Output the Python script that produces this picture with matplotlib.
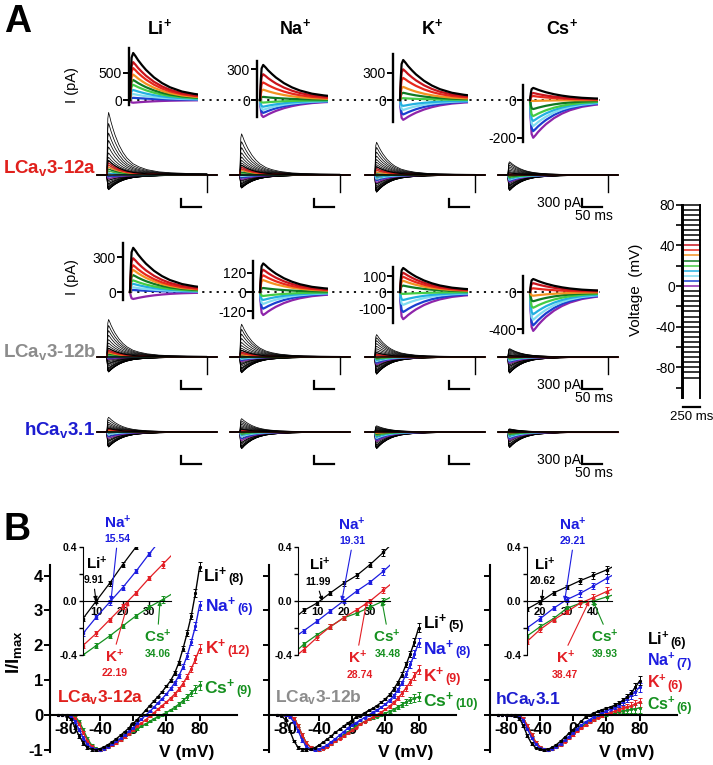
import numpy as np
import matplotlib
matplotlib.use("Agg")
import matplotlib.pyplot as plt
from matplotlib.lines import Line2D

plt.rcParams["font.family"] = ["Liberation Sans", "DejaVu Sans"]
plt.rcParams["axes.unicode_minus"] = False
plt.rcParams["mathtext.fontset"] = "custom"
for k in ("rm", "it", "bf", "sf"):
    plt.rcParams["mathtext." + k] = "Liberation Sans:bold"

# ---------------- data ----------------
ion_names = ["Li", "Na", "K", "Cs"]
ion_colors = ["black", "#1c1ce0", "#e31e24", "#15901f"]

# step potentials of the protocol and of the I-V curves (mV)
V_mV = [-90, -85, -80, -75, -70, -65, -60, -55, -50, -45, -40, -35, -30, -25,
        -20, -15, -10, -5, 0, 5, 10, 15, 20, 25, 30, 35, 40, 45, 50, 55, 60,
        65, 70, 75, 80]
holding_mV = -110
pulse_ms = 250

# normalised I-V curves (I/Imax)
iv_12a_li = [0, 0, -0.03, -0.12, -0.35, -0.6, -0.8, -0.93, -0.99, -1.0, -0.97, -0.92,
             -0.85, -0.77, -0.68, -0.58, -0.48, -0.37, -0.25, -0.13, 0.0, 0.13, 0.27,
             0.40, 0.53, 0.67, 0.82, 0.98, 1.2, 1.5, 1.9, 2.35, 2.85, 3.5, 4.25]
iv_12a_na = [0, 0, -0.01, -0.05, -0.18, -0.42, -0.66, -0.84, -0.95, -0.99, -1.0, -0.97,
             -0.91, -0.84, -0.76, -0.67, -0.57, -0.47, -0.36, -0.24, -0.12, -0.01, 0.10,
             0.22, 0.35, 0.47, 0.6, 0.75, 0.92, 1.12, 1.38, 1.7, 2.1, 2.55, 3.15]
iv_12a_k = [0, 0, 0, -0.02, -0.08, -0.25, -0.5, -0.74, -0.9, -0.98, -1.0, -0.98,
            -0.93, -0.87, -0.8, -0.72, -0.63, -0.54, -0.44, -0.33, -0.24, -0.14, -0.04,
            0.06, 0.17, 0.27, 0.37, 0.48, 0.6, 0.74, 0.9, 1.1, 1.33, 1.6, 1.9]
iv_12a_cs = [0, 0, 0, -0.01, -0.05, -0.18, -0.42, -0.68, -0.86, -0.96, -1.0, -0.98,
             -0.93, -0.86, -0.79, -0.71, -0.63, -0.55, -0.47, -0.40, -0.33, -0.26, -0.185,
             -0.11, -0.045, 0.01, 0.07, 0.14, 0.22, 0.31, 0.41, 0.52, 0.63, 0.75, 0.85]

iv_12b_li = [0, -0.02, -0.15, -0.45, -0.75, -0.93, -0.99, -1.0, -0.98, -0.94, -0.87, -0.79,
             -0.7, -0.6, -0.5, -0.41, -0.32, -0.23, -0.15, -0.07, -0.015, 0.06, 0.13,
             0.19, 0.27, 0.36, 0.46, 0.58, 0.74, 0.93, 1.16, 1.45, 1.76, 2.1, 2.5]
iv_12b_na = [0, 0, -0.01, -0.05, -0.2, -0.45, -0.72, -0.9, -0.98, -1.0, -0.98, -0.93,
             -0.86, -0.77, -0.68, -0.58, -0.48, -0.38, -0.29, -0.22, -0.15, -0.074, 0.0,
             0.074, 0.14, 0.22, 0.31, 0.42, 0.55, 0.72, 0.92, 1.17, 1.45, 1.75, 2.07]
iv_12b_k = [0, 0, 0, -0.02, -0.1, -0.3, -0.58, -0.8, -0.93, -0.99, -1.0, -0.97,
            -0.91, -0.84, -0.76, -0.68, -0.6, -0.52, -0.44, -0.36, -0.27, -0.19, -0.125,
            -0.065, 0.0, 0.08, 0.16, 0.25, 0.36, 0.48, 0.62, 0.78, 0.95, 1.12, 1.3]
iv_12b_cs = [0, 0, 0, -0.02, -0.1, -0.3, -0.58, -0.8, -0.93, -0.99, -1.0, -0.97,
             -0.91, -0.84, -0.76, -0.67, -0.58, -0.49, -0.41, -0.32, -0.25, -0.19, -0.125,
             -0.09, -0.045, 0.0, 0.05, 0.1, 0.16, 0.23, 0.3, 0.37, 0.43, 0.48, 0.52]

iv_31_li = [0, 0, 0, 0, -0.02, -0.08, -0.3, -0.6, -0.82, -0.94, -0.99, -1.0,
            -0.98, -0.93, -0.85, -0.75, -0.64, -0.53, -0.42, -0.3, -0.18, -0.06, -0.005,
            0.06, 0.105, 0.15, 0.19, 0.23, 0.28, 0.34, 0.42, 0.52, 0.64, 0.8, 0.98]
iv_31_na = [0, 0, 0, 0, -0.01, -0.04, -0.15, -0.4, -0.65, -0.84, -0.95, -0.99,
            -1.0, -0.97, -0.91, -0.83, -0.73, -0.62, -0.51, -0.4, -0.29, -0.2, -0.13,
            -0.054, 0.01, 0.056, 0.11, 0.167, 0.22, 0.29, 0.37, 0.46, 0.56, 0.67, 0.8]
iv_31_k = [0, 0, 0, 0, 0, -0.02, -0.1, -0.3, -0.56, -0.78, -0.91, -0.98,
           -1.0, -0.98, -0.93, -0.86, -0.77, -0.67, -0.57, -0.47, -0.38, -0.30, -0.21,
           -0.14, -0.08, -0.017, 0.025, 0.07, 0.11, 0.15, 0.19, 0.23, 0.27, 0.32, 0.37]
iv_31_cs = [0, 0, 0, 0, 0, -0.02, -0.1, -0.3, -0.56, -0.78, -0.91, -0.98,
            -1.0, -0.98, -0.93, -0.85, -0.75, -0.64, -0.53, -0.43, -0.34, -0.26, -0.19,
            -0.13, -0.054, -0.017, 0.0, 0.03, 0.06, 0.09, 0.12, 0.14, 0.16, 0.18, 0.2]

iv_sem = [0.01, 0.01, 0.02, 0.03, 0.04, 0.05, 0.05, 0.04, 0.03, 0.02, 0.02, 0.02,
          0.02, 0.02, 0.02, 0.02, 0.02, 0.02, 0.02, 0.02, 0.02, 0.02, 0.02, 0.02,
          0.02, 0.03, 0.03, 0.04, 0.05, 0.06, 0.07, 0.08, 0.09, 0.11, 0.13]

n_12a = [8, 6, 12, 9]
n_12b = [5, 8, 9, 10]
n_31 = [6, 7, 6, 6]
rev_12a = [9.91, 15.54, 22.19, 34.06]
rev_12b = [11.99, 19.31, 28.74, 34.48]
rev_31 = [20.62, 29.21, 38.47, 39.93]

# family traces: peak inward current (pA) used to scale I/Imax
imax_12a = [530, 470, 620, 560]
imax_12b = [540, 570, 620, 580]
imax_31 = [540, 600, 600, 560]
tail_pA = [600, 600, 0]

# enlarged traces, one peak (pA) per coloured step
colored_mV = [0, 5, 10, 15, 20, 25, 30, 35, 40, 45]
colored_colors = ["#8e24aa", "#1a3fd0", "#7fdcf0", "#22b0e0", "#44cc44",
                  "#0f7a22", "#f39220", "#e8281c", "#c8141c", "black"]
peaks_12a_li = [-50, 40, 110, 185, 280, 370, 470, 590, 700, 870]
peaks_12a_na = [-165, -125, -95, -65, -25, 30, 100, 170, 250, 340]
peaks_12a_k = [-220, -160, -110, -65, 20, 80, 145, 245, 340, 444]
peaks_12a_cs = [-200, -165, -138, -111, -85, -48, -5, 21, 37, 64]
peaks_12b_li = [-60, 17, 40, 70, 100, 145, 190, 230, 290, 380]
peaks_12b_na = [-145, -105, -75, -50, -25, 25, 75, 105, 140, 180]
peaks_12b_k = [-170, -125, -80, -50, -12, 40, 70, 95, 120, 150]
peaks_12b_cs = [-420, -360, -300, -240, -170, -100, -40, 40, 95, 140]

# normalised time course of a trace
trace_t = [0, 1, 2, 4, 7, 10, 15, 20, 30, 40, 50, 65, 80, 100, 130, 160, 200, 250]
trace_shape = [0, 0.55, 0.9, 1.0, 0.93, 0.85, 0.74, 0.64, 0.48, 0.36, 0.27, 0.18,
               0.13, 0.085, 0.05, 0.035, 0.025, 0.02]

# ---------------- layout (pixels) ----------------
W, H = 713, 765
fig = plt.figure(figsize=(W / 100, H / 100), dpi=100)


def px_axes(left, top, width, height):
    ax = fig.add_axes([left / W, 1 - (top + height) / H, width / W, height / H])
    ax.patch.set_visible(False)
    return ax


def ftext(x, y, s, **kw):
    kw.setdefault("ha", "center")
    kw.setdefault("va", "center")
    return fig.text(x / W, 1 - y / H, s, **kw)


shape = np.array(trace_shape)


def colored_panel(spine_x, start_x, zero_y, pa_px, peaks, ticks, span):
    ms_px = 1.25
    right = start_x + 68
    top, bot = zero_y - 65, zero_y + 50
    ax = px_axes(spine_x, top, right - spine_x, bot - top)
    ax.set_xlim((spine_x - start_x) * ms_px, 68 * ms_px)
    ax.set_ylim(-(bot - zero_y) * pa_px, (zero_y - top) * pa_px)
    for p, c in zip(peaks, colored_colors):
        ax.plot(trace_t, shape * p, color=c, lw=1.6, solid_joinstyle="round")
    for s in ("top", "right", "bottom"):
        ax.spines[s].set_visible(False)
    ax.spines["left"].set_linewidth(1.7)
    ax.spines["left"].set_bounds((zero_y - span[1]) * pa_px, (zero_y - span[0]) * pa_px)
    ax.set_xticks([])
    ax.set_yticks(ticks)
    ax.tick_params(axis="y", length=4, width=1.4, labelsize=10, pad=1)
    return ax


def family_panel(start_x, zero_y, iv, imax, tail, bar_text=False):
    ms_px, pa_px = 2.5, 36.0
    ax = px_axes(start_x - 14, zero_y - 66, 128, 102)
    ax.set_xlim(-14 * ms_px, 114 * ms_px)
    ax.set_ylim(-36 * pa_px, 66 * pa_px)
    ax.axis("off")
    t = np.concatenate([[-25], trace_t, [pulse_ms, 275]])
    for rel in iv:
        y = np.concatenate([[0], rel * imax * shape, [0, 0]])
        ax.plot(t, y, color="black", lw=0.55)
    for v, c in zip(colored_mV, colored_colors):
        rel = iv[V_mV.index(v)]
        y = np.concatenate([[0], rel * imax * shape, [0, 0]])
        ax.plot(t, y, color=c, lw=0.8)
    ax.plot([-25, 275], [0, 0], color="black", lw=1.1)
    if tail:
        ax.plot([pulse_ms, pulse_ms], [0, -tail], color="black", lw=1.0)
    ax.plot([185, 185, 235], [-852, -1152, -1152], color="black", lw=1.6,
            solid_joinstyle="miter")
    if bar_text:
        ax.text(182, -1010, "300 pA", ha="right", va="center", fontsize=10)
        ax.text(215, -1210, "50 ms", ha="center", va="top", fontsize=10)
    return ax


# ---------------- panel A ----------------
ftext(18, 22, "A", fontsize=27, fontweight="bold")
for x, name in zip([160, 295, 432, 562], ion_names):
    ftext(x, 28, name + r"$^{+}$", fontsize=13, fontweight="bold")

col_start = [130, 260, 400, 530]
col_spine_12a = [129, 257, 393, 523]
col_spine_12b = [123, 253, 393, 523]
col_scale_12a = [18.5, 9.7, 11.1, 5.3]
col_scale_12b = [8.6, 6.3, 6.25, 10.8]
col_ticks_12a = [[0, 500], [0, 300], [0, 300], [-200, 0]]
col_ticks_12b = [[0, 300], [-120, 0, 120], [-100, 0, 100], [-400, 0]]
col_span_12a = [(48, 105), (61, 117), (54, 122), (85, 142)]
col_span_12b = [(243, 300), (261, 318), (267, 323), (276, 333)]
peaks_12a = [peaks_12a_li, peaks_12a_na, peaks_12a_k, peaks_12a_cs]
peaks_12b = [peaks_12b_li, peaks_12b_na, peaks_12b_k, peaks_12b_cs]

for zero_y, spines, scales, ticks, spans, peaks in [
        (100, col_spine_12a, col_scale_12a, col_ticks_12a, col_span_12a, peaks_12a),
        (292, col_spine_12b, col_scale_12b, col_ticks_12b, col_span_12b, peaks_12b)]:
    for i in range(4):
        colored_panel(spines[i], col_start[i], zero_y, scales[i], peaks[i],
                      ticks[i], spans[i])
    fig.add_artist(Line2D([col_start[0] / W, 600 / W], [1 - zero_y / H] * 2,
                          color="black", lw=1.3, ls=(0, (1.2, 2.8)), zorder=-1))
    ftext(72, zero_y - 15, "I (pA)", rotation=90, fontsize=10.5)

fam_start = [107, 240, 375, 508]
fam_zero = [175, 357, 432]
iv_sets = [[iv_12a_li, iv_12a_na, iv_12a_k, iv_12a_cs],
           [iv_12b_li, iv_12b_na, iv_12b_k, iv_12b_cs],
           [iv_31_li, iv_31_na, iv_31_k, iv_31_cs]]
imax_sets = [imax_12a, imax_12b, imax_31]
for r in range(3):
    for i in range(4):
        family_panel(fam_start[i], fam_zero[r], iv_sets[r][i], imax_sets[r][i],
                     tail_pA[r], bar_text=(i == 3))

cell_names = [r"LCa$_{v}$3-12a", r"LCa$_{v}$3-12b", r"hCa$_{v}$3.1"]
cell_colors = ["#e0201c", "#8c8c8c", "#1c1cd0"]
ftext(3, 168, cell_names[0], ha="left", fontsize=13.5, fontweight="bold", color=cell_colors[0])
ftext(3, 352, cell_names[1], ha="left", fontsize=13.5, fontweight="bold", color=cell_colors[1])
ftext(24, 430, cell_names[2], ha="left", fontsize=13.5, fontweight="bold", color=cell_colors[2])

# voltage protocol
pax = px_axes(682, 200, 20, 220)
pax.set_xlim(-15, 279)
pax.set_ylim(-(420 - 286) / 1.0175, (286 - 200) / 1.0175)
for v in V_mV:
    c = colored_colors[colored_mV.index(v)] if v in colored_mV else "black"
    pax.plot([0, pulse_ms], [v, v], color=c, lw=1.1)
pax.plot([0, 0], [holding_mV, V_mV[-1]], color="black", lw=1.4)
pax.plot([pulse_ms, pulse_ms], [holding_mV, V_mV[-1]], color="black", lw=1.4)
for s in ("top", "right", "bottom"):
    pax.spines[s].set_visible(False)
pax.spines["left"].set_bounds(holding_mV, V_mV[-1])
pax.spines["left"].set_linewidth(1.4)
pax.set_xticks([])
pax.set_yticks([-80, -40, 0, 40, 80])
pax.set_yticks([-100, -60, -20, 20, 60], minor=True)
pax.tick_params(axis="y", which="both", length=4, width=1.2, labelsize=10, pad=1)
pax.plot([0, pulse_ms], [-119, -119], color="black", lw=1.6, clip_on=False)
pax.text(pulse_ms / 2, -123, "250 ms", ha="center", va="top", fontsize=9.5)
ftext(636, 290, "Voltage  (mV)", rotation=90, fontsize=11)

# ---------------- panel B ----------------
ftext(17, 530, "B", fontsize=27, fontweight="bold")
ftext(14, 652, r"I/I$_{max}$", rotation=90, fontsize=13.5, fontweight="bold")

iv_left = [50, 269, 490]
inset_left = [83, 298, 527]
inset_xlim = [(5, 38.3), (2.8, 37.5), (15, 47)]
inset_xticks = [[10, 20, 30], [10, 20, 30], [20, 30, 40]]
rev_sets = [rev_12a, rev_12b, rev_31]
n_sets = [n_12a, n_12b, n_31]
label_pos = [
    [((97, 564), (94, 580)), ((118, 523), (117, 539)), ((115, 657), (115, 673)), ((158, 637), (158, 654))],
    [((320, 565), (318, 582)), ((352, 525), (352, 541)), ((358, 658), (360, 675)), ((387, 637), (388, 654))],
    [((545, 565), (543, 581)), ((573, 525), (573, 541)), ((566, 658), (565, 675)), ((605, 637), (605, 654))],
]
legend_pos = [
    [(203, 575), (205, 605), (205, 647), (204, 687)],
    [(423, 622), (423, 648), (423, 675), (423, 700)],
    [(647, 639), (647, 660), (647, 682), (647, 704)],
]
legend_size = [12.5, 12.5, 11.5]
cell_pos = [(57, 698), (275, 698), (495, 700)]
V = np.array(V_mV)
sem = np.array(iv_sem)
legend_texts = []

for p in range(3):
    ax = px_axes(iv_left[p], 560, 187, 192)
    ax.set_xlim(-100, 125)
    ax.set_ylim(-1.063, 4.45)
    for i in (3, 2, 1, 0):
        ax.errorbar(V, iv_sets[p][i], yerr=sem, color=ion_colors[i], lw=1.0,
                    elinewidth=0.7, capsize=1.6, capthick=0.7, marker="s", ms=1.2)
    ax.spines["top"].set_visible(False)
    ax.spines["right"].set_visible(False)
    ax.spines["bottom"].set_position(("data", 0))
    ax.spines["left"].set_bounds(-1.05, 4.3)
    ax.spines["bottom"].set_bounds(-100, 125)
    for s in ("left", "bottom"):
        ax.spines[s].set_linewidth(1.5)
    ax.set_xticks([-80, -40, 0, 40, 80], labels=["-80", "-40", "0", "40", "80"],
                  fontsize=12, fontweight="bold")
    if p == 0:
        ax.set_yticks([-1, 0, 1, 2, 3, 4], labels=["-1", "0", "1", "2", "3", "4"],
                      fontsize=12, fontweight="bold")
    else:
        ax.set_yticks([-1, 0, 1, 2, 3, 4], labels=[])
    ax.tick_params(length=4, width=1.4, pad=1)
    ftext(iv_left[p] + 137, 753, "V (mV)", fontsize=12.5, fontweight="bold")
    ftext(cell_pos[p][0], cell_pos[p][1], cell_names[p], ha="left", fontsize=12.5,
          fontweight="bold", color=cell_colors[p])
    for i in range(4):
        lx, ly = legend_pos[p][i]
        t = ftext(lx, ly, ion_names[i] + r"$^{+}$", ha="left",
                  fontsize=legend_size[p], fontweight="bold", color=ion_colors[i])
        legend_texts.append((t, ly, "(%d)" % n_sets[p][i], ion_colors[i]))

    # inset around the reversal potentials
    x0, x1 = inset_xlim[p]
    ins = px_axes(inset_left[p], 547, (x1 - x0) * 2.65, 108)
    ins.set_xlim(x0, x1)
    ins.set_ylim(-0.4, 0.4)
    sel = (V >= x0 - 5) & (V <= x1 + 5)
    for i in (3, 2, 1, 0):
        ins.errorbar(V[sel], np.array(iv_sets[p][i])[sel], yerr=sem[sel] * 0.8,
                     color=ion_colors[i], lw=0.9, elinewidth=0.7, capsize=1.5,
                     capthick=0.7, marker="s", ms=2.0)
    ins.spines["top"].set_visible(False)
    ins.spines["right"].set_visible(False)
    ins.spines["bottom"].set_position(("data", 0))
    ins.set_xticks(inset_xticks[p], labels=[str(t) for t in inset_xticks[p]],
                   fontsize=8, fontweight="bold")
    ins.set_yticks([-0.4, 0.0, 0.4], labels=["-0.4", "0.0", "0.4"], fontsize=7.5,
                   fontweight="bold")
    ins.set_yticks([-0.2, 0.2], minor=True)
    ins.tick_params(which="both", length=3, width=1, pad=1)
    for i in range(4):
        (lx, ly), (nx, ny) = label_pos[p][i]
        c = ion_colors[i]
        arrow = dict(arrowstyle="-|>", color=c, lw=0.8, mutation_scale=6,
                     shrinkA=1, shrinkB=0)
        lab = ion_names[i] + r"$^{+}$"
        num = "%.2f" % rev_sets[p][i]
        if i < 2:
            ftext(lx, ly, lab, fontsize=11, fontweight="bold", color=c)
            arrow["relpos"] = (0.5, 0.0)
            ins.annotate(num, xy=(rev_sets[p][i], 0), xytext=(nx, H - ny),
                         textcoords="figure pixels", ha="center", va="center",
                         fontsize=7.5, fontweight="bold", color=c,
                         arrowprops=arrow, annotation_clip=False)
        else:
            arrow["relpos"] = (0.5, 1.0)
            ins.annotate(lab, xy=(rev_sets[p][i], 0), xytext=(lx, H - ly),
                         textcoords="figure pixels", ha="center", va="center",
                         fontsize=11, fontweight="bold", color=c,
                         arrowprops=arrow, annotation_clip=False)
            ftext(nx, ny, num, fontsize=7.5, fontweight="bold", color=c)

# sample counts just right of each legend label, slightly lowered
fig.canvas.draw()
renderer = fig.canvas.get_renderer()
for t, ly, count, c in legend_texts:
    bb = t.get_window_extent(renderer)
    ftext(bb.x1 + 1, ly + 4, count, ha="left", fontsize=9, fontweight="bold", color=c)

fig.savefig("out.png", dpi=100)
